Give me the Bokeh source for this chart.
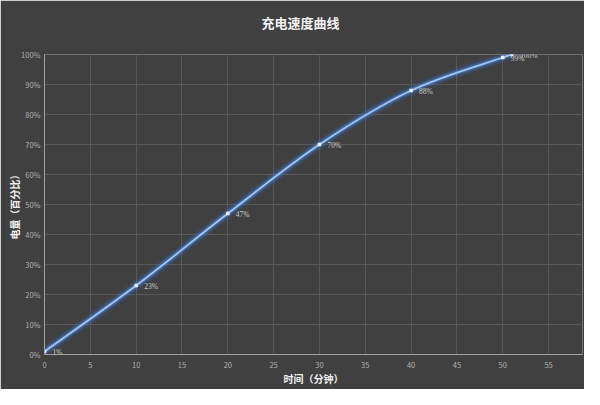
from bokeh.plotting import figure
from bokeh.models import NumeralTickFormatter, FixedTicker, Range1d, ColumnDataSource, LabelSet, Title
from bokeh.embed import file_html
from bokeh.resources import INLINE

# data
minutes = [0, 10, 20, 30, 40, 50, 51]
charge = [0.01, 0.23, 0.47, 0.70, 0.88, 0.99, 1.00]
point_labels = ["1%", "23%", "47%", "70%", "88%", "99%", "100%"]
x_ticks = [0, 5, 10, 15, 20, 25, 30, 35, 40, 45, 50, 55, 60]
y_ticks = [0, 0.1, 0.2, 0.3, 0.4, 0.5, 0.6, 0.7, 0.8, 0.9, 1.0]
title_text = "充电速度曲线"
x_title = "时间（分钟）"
y_title = "电量（百分比）"

BG = "#404040"
FONT = "Noto Sans CJK SC"

p = figure(width=584, height=389, output_backend="svg", toolbar_location=None,
           x_range=Range1d(0, 58.7), y_range=Range1d(0, 1.0),
           min_border_left=44, min_border_right=2, min_border_top=54, min_border_bottom=35,
           background_fill_color=BG, border_fill_color=BG)
p.outline_line_color = None

# spacer between frame and title
p.add_layout(Title(text=" ", text_font_size="14px", standoff=0), "above")

p.title.text = title_text
p.title.align = "left"
p.title.offset = 217
p.title.text_color = "#f2f2f2"
p.title.text_font = FONT
p.title.text_font_size = "13px"
p.title.text_font_style = "bold"

for ax in (p.xaxis[0], p.yaxis[0]):
    ax.major_tick_line_color = None
    ax.minor_tick_line_color = None
    ax.major_tick_out = 0
    ax.major_tick_in = 0
    ax.minor_tick_out = 0
    ax.minor_tick_in = 0
    ax.major_label_text_color = "#b0b0b0"
    ax.major_label_text_font = FONT
    ax.major_label_text_font_size = "7.5px"
    ax.axis_label_text_color = "#f0f0f0"
    ax.axis_label_text_font = FONT
    ax.axis_label_text_font_size = "10px"
    ax.axis_label_text_font_style = "bold"
    ax.axis_line_color = "#a0a0a0"
    ax.axis_line_width = 1

p.xaxis.ticker = FixedTicker(ticks=x_ticks)
p.yaxis.ticker = FixedTicker(ticks=y_ticks)
p.yaxis.formatter = NumeralTickFormatter(format="0%")
p.xaxis.axis_label = x_title
p.yaxis.axis_label = y_title
p.xaxis.major_label_standoff = 7
p.yaxis.major_label_standoff = 4
p.xaxis.axis_label_standoff = 0
p.yaxis.axis_label_standoff = -4

p.xgrid.ticker = FixedTicker(ticks=x_ticks)
p.ygrid.ticker = FixedTicker(ticks=y_ticks)
p.grid.grid_line_color = "#585858"
p.grid.grid_line_width = 1

# smooth curve as bezier segments derived from data
n = len(minutes)
x0, y0, x1, y1, cx0, cy0, cx1, cy1 = [], [], [], [], [], [], [], []
for i in range(n - 1):
    pm = max(i - 1, 0)
    pn = min(i + 2, n - 1)
    x0.append(minutes[i]); y0.append(charge[i])
    x1.append(minutes[i + 1]); y1.append(charge[i + 1])
    cx0.append(minutes[i] + (minutes[i + 1] - minutes[pm]) / 6)
    cy0.append(charge[i] + (charge[i + 1] - charge[pm]) / 6)
    cx1.append(minutes[i + 1] - (minutes[pn] - minutes[i]) / 6)
    cy1.append(charge[i + 1] - (charge[pn] - charge[i]) / 6)
bz = ColumnDataSource(dict(x0=x0, y0=y0, x1=x1, y1=y1, cx0=cx0, cy0=cy0, cx1=cx1, cy1=cy1))

for w, a, c in [(11, 0.12, "#2f6fd0"), (7, 0.2, "#3a7ddc"), (4.5, 0.4, "#4a8ae6")]:
    p.bezier(x0="x0", y0="y0", x1="x1", y1="y1", cx0="cx0", cy0="cy0", cx1="cx1", cy1="cy1",
             source=bz, line_color=c, line_width=w, line_alpha=a)
p.bezier(x0="x0", y0="y0", x1="x1", y1="y1", cx0="cx0", cy0="cy0", cx1="cx1", cy1="cy1",
         source=bz, line_color="#a4c4f0", line_width=1.8)

src = ColumnDataSource(dict(x=minutes, y=charge, t=point_labels))
p.scatter("x", "y", source=src, marker="square", size=3.5, fill_color="#e8f0ff", line_color=None)

labels = LabelSet(x="x", y="y", text="t", source=src, x_offset=8, y_offset=-1,
                  text_baseline="middle", text_color="#cccccc", text_font_size="7.5px",
                  text_font=FONT)
p.add_layout(labels)

open("out.html", "w").write(file_html(p, INLINE))
